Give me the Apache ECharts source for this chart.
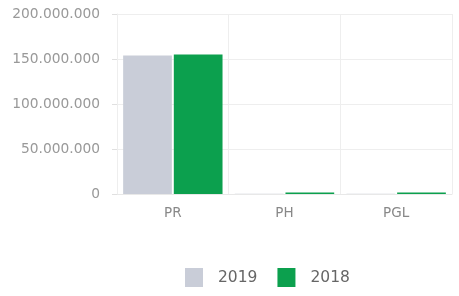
<!DOCTYPE html>
<html><head><meta charset="utf-8">
<script src="https://cdn.jsdelivr.net/npm/echarts@6/dist/echarts.min.js"></script>
<style>html,body{margin:0;padding:0;background:#fff}#c{width:459px;height:296px}</style>
</head><body><div id="c"></div>
<script>
const categories = ['PR', 'PH', 'PGL'];
const values2019 = [154000000, 400000, 400000];
const values2018 = [155000000, 1600000, 1600000];
const yTicks = [0, 50000000, 100000000, 150000000, 200000000];

function fmt(v){ return String(v).replace(/\B(?=(\d{3})+(?!\d))/g, '.'); }

const chart = echarts.init(document.getElementById('c'));
chart.setOption({
  animation: false,
  grid: { left: 117, right: 7, top: 14, bottom: 102 },
  legend: {
    top: 263, left: 180, itemWidth: 18, itemHeight: 19, itemGap: 20,
    icon: 'rect',
    textStyle: { color: '#666', fontSize: 15.5, fontFamily: 'DejaVu Sans', padding: [6, 0, 0, 10] },
    data: ['2019', '2018']
  },
  xAxis: {
    type: 'category', data: categories,
    axisLine: { lineStyle: { color: '#e8e8e8' } },
    axisTick: { show: false },
    axisLabel: { color: '#888', fontSize: 13.5, fontFamily: 'DejaVu Sans', margin: 12 },
    splitLine: { show: true, lineStyle: { color: '#eeeeee' } }
  },
  yAxis: {
    type: 'value', min: yTicks[0], max: yTicks[yTicks.length-1], interval: 50000000,
    axisLine: { show: true, lineStyle: { color: '#eeeeee' } },
    axisTick: { show: true, length: 5, lineStyle: { color: '#e0e0e0' } },
    axisLabel: { color: '#999', fontSize: 13.8, fontFamily: 'DejaVu Sans', formatter: fmt, margin: 17 },
    splitLine: { lineStyle: { color: '#eeeeee' } }
  },
  series: [
    { name: '2019', type: 'bar', data: values2019, itemStyle: { color: '#c9cdd8' }, barGap: '4%', barCategoryGap: '11%' },
    { name: '2018', type: 'bar', data: values2018, itemStyle: { color: '#0ca04e' } }
  ]
});
</script></body></html>
